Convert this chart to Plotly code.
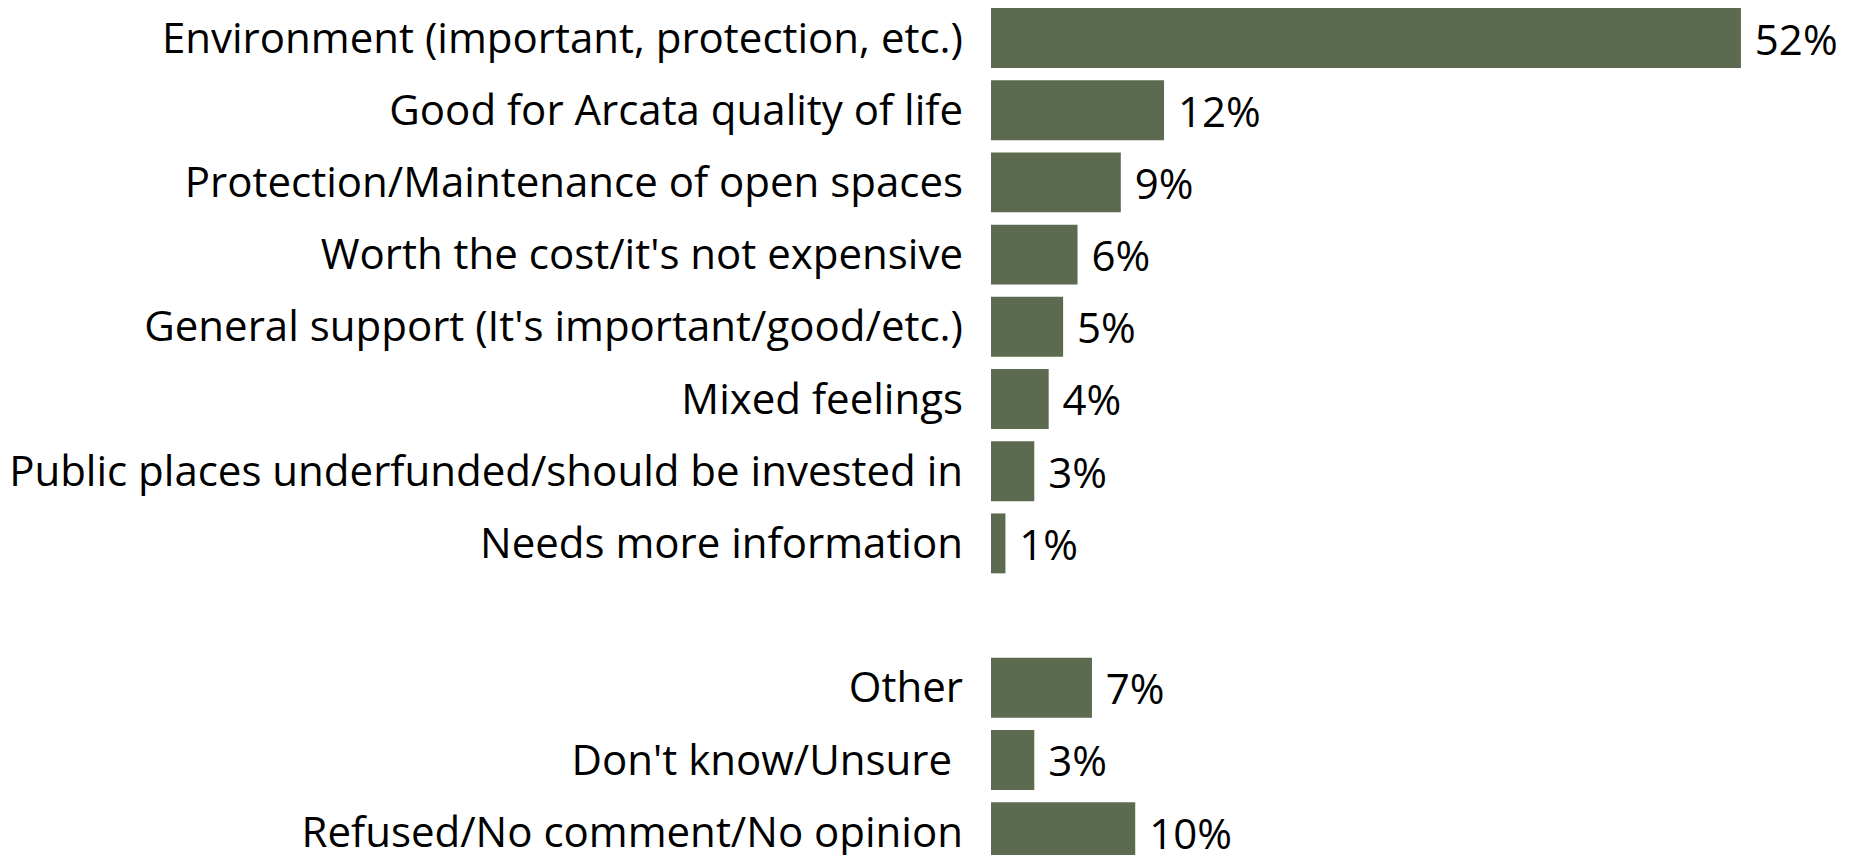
import plotly.graph_objects as go

categories = [
    "Environment (important, protection, etc.)",
    "Good for Arcata quality of life",
    "Protection/Maintenance of open spaces",
    "Worth the cost/it's not expensive",
    "General support (It's important/good/etc.)",
    "Mixed feelings",
    "Public places underfunded/should be invested in",
    "Needs more information",
    " ",
    "Other",
    "Don't know/Unsure\u00a0",
    "Refused/No comment/No opinion",
]
values = [52, 12, 9, 6, 5, 4, 3, 1, None, 7, 3, 10]
labels = [f"{v}%" if v is not None else "" for v in values]

BAR_COLOR = "#5C6B4F"
FONT = "Open Sans"
FONT_SIZE = 42

fig = go.Figure(
    go.Bar(
        x=values,
        y=categories,
        orientation="h",
        marker=dict(color=BAR_COLOR, line=dict(width=0)),
        text=labels,
        texttemplate=" %{text}",
        textposition="outside",
        textfont=dict(family=FONT, size=FONT_SIZE, color="black"),
        cliponaxis=False,
    )
)

# page has an 8px body margin, so the figure is sized to fit inside the window
fig.update_layout(
    width=1845,
    height=847,
    margin=dict(l=983, r=0, t=0, b=0, autoexpand=False),
    paper_bgcolor="white",
    plot_bgcolor="white",
    bargap=0.17,
    showlegend=False,
    font=dict(family=FONT, size=FONT_SIZE, color="black"),
)
fig.update_xaxes(range=[0, 59.77], visible=False, fixedrange=True)
fig.update_yaxes(
    type="category",
    categoryorder="array",
    categoryarray=categories,
    range=[11.316, -0.4155],
    showgrid=False,
    zeroline=False,
    showline=False,
    ticks="",
    ticklabelstandoff=27,
    tickfont=dict(family=FONT, size=FONT_SIZE, color="black"),
    automargin=False,
)

fig.write_html("out.html")
